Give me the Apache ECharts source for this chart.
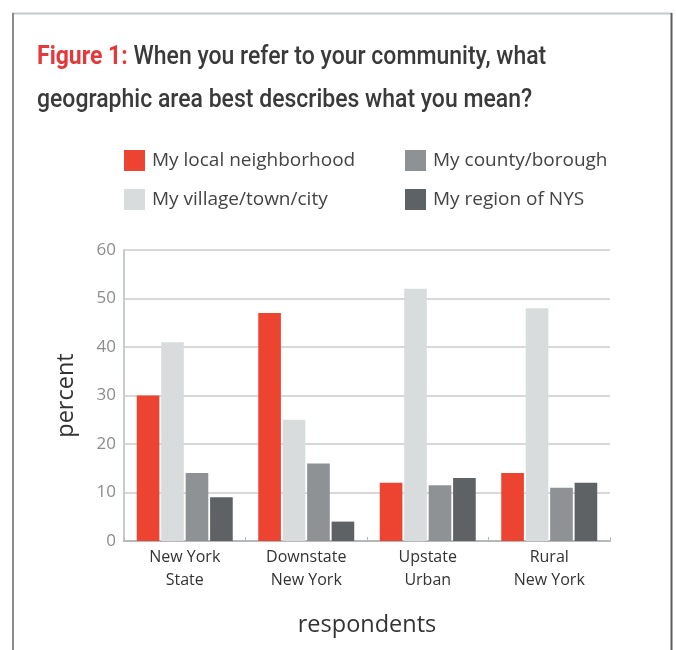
<!DOCTYPE html>
<html><head><meta charset="utf-8">
<script src="https://cdn.jsdelivr.net/npm/echarts@6/dist/echarts.min.js"></script>
<style>html,body{margin:0;padding:0;background:#fff}#c{width:676px;height:650px}</style>
</head><body><div id="c"></div>
<script>
const categories = ['New York\nState', 'Downstate\nNew York', 'Upstate\nUrban', 'Rural\nNew York'];
const seriesNames = ['My local neighborhood', 'My village/town/city', 'My county/borough', 'My region of NYS'];
const localNeighborhood = [30, 47, 12, 14];
const villageTownCity = [41, 25, 52, 48];
const countyBorough = [14, 16, 11.5, 11];
const regionNYS = [9, 4, 13, 12];
const yTicks = [0, 10, 20, 30, 40, 50, 60];
const colors = ['#EC4430', '#D9DCDD', '#8E9295', '#5E6265'];
const values = [localNeighborhood, villageTownCity, countyBorough, regionNYS];
const font = 'Open Sans';

const chart = echarts.init(document.getElementById('c'), null, {renderer: 'canvas'});
chart.setOption({
  animation: false,
  backgroundColor: '#fff',
  textStyle: {fontFamily: font},
  graphic: [
    {type: 'line', shape: {x1: 12, y1: 13.5, x2: 672, y2: 13.5}, style: {stroke: '#c4c9c9', lineWidth: 2}, silent: true},
    {type: 'line', shape: {x1: 13, y1: 13, x2: 13, y2: 650}, style: {stroke: '#8a8c8e', lineWidth: 2}, silent: true},
    {type: 'line', shape: {x1: 671.5, y1: 13, x2: 671.5, y2: 650}, style: {stroke: '#5a5c5e', lineWidth: 2}, silent: true},
    {type: 'text', x: 37, y: 36, scaleX: 0.885, style: {
      rich: {
        r: {fill: '#E5383B', fontFamily: 'Roboto', fontWeight: 'bold', fontSize: 26, lineHeight: 43},
        t: {fill: '#3a3a3a', fontFamily: 'Roboto', fontWeight: 500, fontSize: 26, lineHeight: 43}
      },
      text: '{r|Figure 1:}{t| When you refer to your community, what}\n{t|geographic area best describes what you mean?}'
    }}
  ],
  legend: [
    {data: [seriesNames[0], seriesNames[1]], orient: 'vertical', left: 124, top: 150, padding: 0, itemWidth: 21, itemHeight: 21, itemGap: 18,
     textStyle: {fontFamily: font, fontSize: 19, color: '#444', padding: [0, 0, 0, 2]}, icon: 'rect'},
    {data: [seriesNames[2], seriesNames[3]], orient: 'vertical', left: 405, top: 150, padding: 0, itemWidth: 21, itemHeight: 21, itemGap: 18,
     textStyle: {fontFamily: font, fontSize: 19, color: '#444', padding: [0, 0, 0, 2]}, icon: 'rect'}
  ],
  grid: {left: 124, right: 66, top: 250, bottom: 109, containLabel: false},
  xAxis: {
    type: 'category', data: categories,
    name: 'respondents', nameLocation: 'middle', nameGap: 72,
    nameTextStyle: {fontFamily: font, fontSize: 23.5, color: '#333'},
    axisLine: {show: true, lineStyle: {color: '#b5b8ba', width: 2}},
    axisTick: {show: true, inside: true, length: 4, alignWithLabel: false, lineStyle: {color: '#b5b8ba'}},
    axisLabel: {fontFamily: font, fontSize: 16, color: '#333', lineHeight: 23, margin: 5}
  },
  yAxis: {
    type: 'value', min: 0, max: 60, interval: 10,
    name: 'percent', nameLocation: 'middle', nameGap: 46, nameRotate: 90,
    nameTextStyle: {fontFamily: font, fontSize: 23.5, color: '#333'},
    axisLine: {show: true, lineStyle: {color: '#c8cbcc', width: 2}},
    axisTick: {show: false},
    splitLine: {show: true, lineStyle: {color: '#d6d8d9', width: 2}},
    axisLabel: {fontFamily: font, fontSize: 17, color: '#8c8c8c', margin: 8,
      formatter: v => yTicks.includes(v) ? String(v) : ''}
  },
  series: values.map((d, i) => ({
    type: 'bar', name: seriesNames[i], data: d,
    itemStyle: {color: colors[i]},
    barCategoryGap: '21%', barGap: '8%'
  }))
});
</script></body></html>
